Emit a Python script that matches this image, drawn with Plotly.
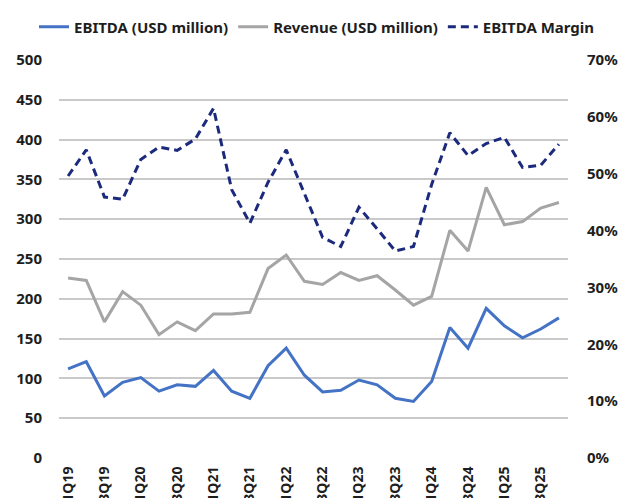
import plotly.graph_objects as go

quarters = [f"{q}Q{y}" for y in range(19, 26) for q in range(1, 5)]
ebitda = [112, 121, 78, 95, 101, 84, 92, 90, 110, 84, 75, 116, 138, 104,
          83, 85, 98, 92, 75, 71, 96, 164, 138, 188, 166, 151, 162, 176]
revenue = [226, 223, 171, 209, 192, 155, 171, 160, 181, 181, 183, 238, 255, 222,
           218, 233, 223, 229, 211, 192, 203, 286, 260, 340, 293, 297, 314, 321]
margin = [49.6, 54.2, 45.9, 45.5, 52.5, 54.7, 54.1, 56.1, 61.5, 47.2, 41.3, 48.5, 54.2, 46.4,
          38.8, 37.2, 44.1, 40.3, 36.4, 37.2, 48.1, 57.2, 53.2, 55.3, 56.4, 51.1, 51.5, 55.2]
tick_labels = quarters[::2]
left_ticks = list(range(0, 501, 50))
right_ticks = list(range(0, 71, 10))

FONT = "Noto Sans"
TXT = "#1e1e1e"
W, H = 621, 498

fig = go.Figure()
fig.add_trace(go.Scatter(x=quarters, y=ebitda, name="EBITDA (USD million)", mode="lines",
                         line=dict(color="#4472C4", width=3)))
fig.add_trace(go.Scatter(x=quarters, y=revenue, name="Revenue (USD million)", mode="lines",
                         line=dict(color="#A5A5A5", width=3)))
fig.add_trace(go.Scatter(x=quarters, y=margin, name="EBITDA Margin", mode="lines", yaxis="y2",
                         line=dict(color="#1B2A7C", width=3, dash="8px,5px")))

fig.update_layout(
    width=W, height=H,
    margin=dict(l=0, r=0, t=60, b=40, autoexpand=False),
    paper_bgcolor="white", plot_bgcolor="white",
    font=dict(family=FONT, size=15, color=TXT),
    showlegend=True,
    legend=dict(orientation="h", x=317 / W, xanchor="center", y=1.083, yanchor="middle",
                font=dict(family=FONT, size=15, color=TXT, weight="bold"),
                itemwidth=30, bgcolor="rgba(0,0,0,0)"),
    xaxis=dict(type="category", categoryorder="array", categoryarray=quarters,
               domain=[59 / W, 568 / W],
               range=[-0.5, len(quarters) - 0.5], tickmode="array", tickvals=tick_labels,
               ticktext=tick_labels, tickangle=-90, showgrid=False, zeroline=False,
               showline=False, ticks="outside", ticklen=2, tickcolor="rgba(0,0,0,0)",
               tickfont=dict(family=FONT, size=14, color=TXT, weight="bold"),
               automargin=False),
    yaxis=dict(range=[0, 500], tickmode="array", tickvals=left_ticks, showgrid=True,
               gridcolor="#C9C9C9", gridwidth=2, zeroline=False, showline=False,
               ticks="outside", ticklen=13, tickcolor="rgba(0,0,0,0)",
               tickfont=dict(family=FONT, size=15, color=TXT, weight="bold"),
               automargin=False),
    yaxis2=dict(range=[0, 70], overlaying="y", side="right", anchor="x", tickmode="array",
                tickvals=right_ticks, ticktext=[f"{v}%" for v in right_ticks],
                showgrid=False, zeroline=False, showline=False,
                ticks="outside", ticklen=15, tickcolor="rgba(0,0,0,0)",
                tickfont=dict(family=FONT, size=15, color=TXT, weight="bold"),
                automargin=False),
)

fig.write_html("out.html")
